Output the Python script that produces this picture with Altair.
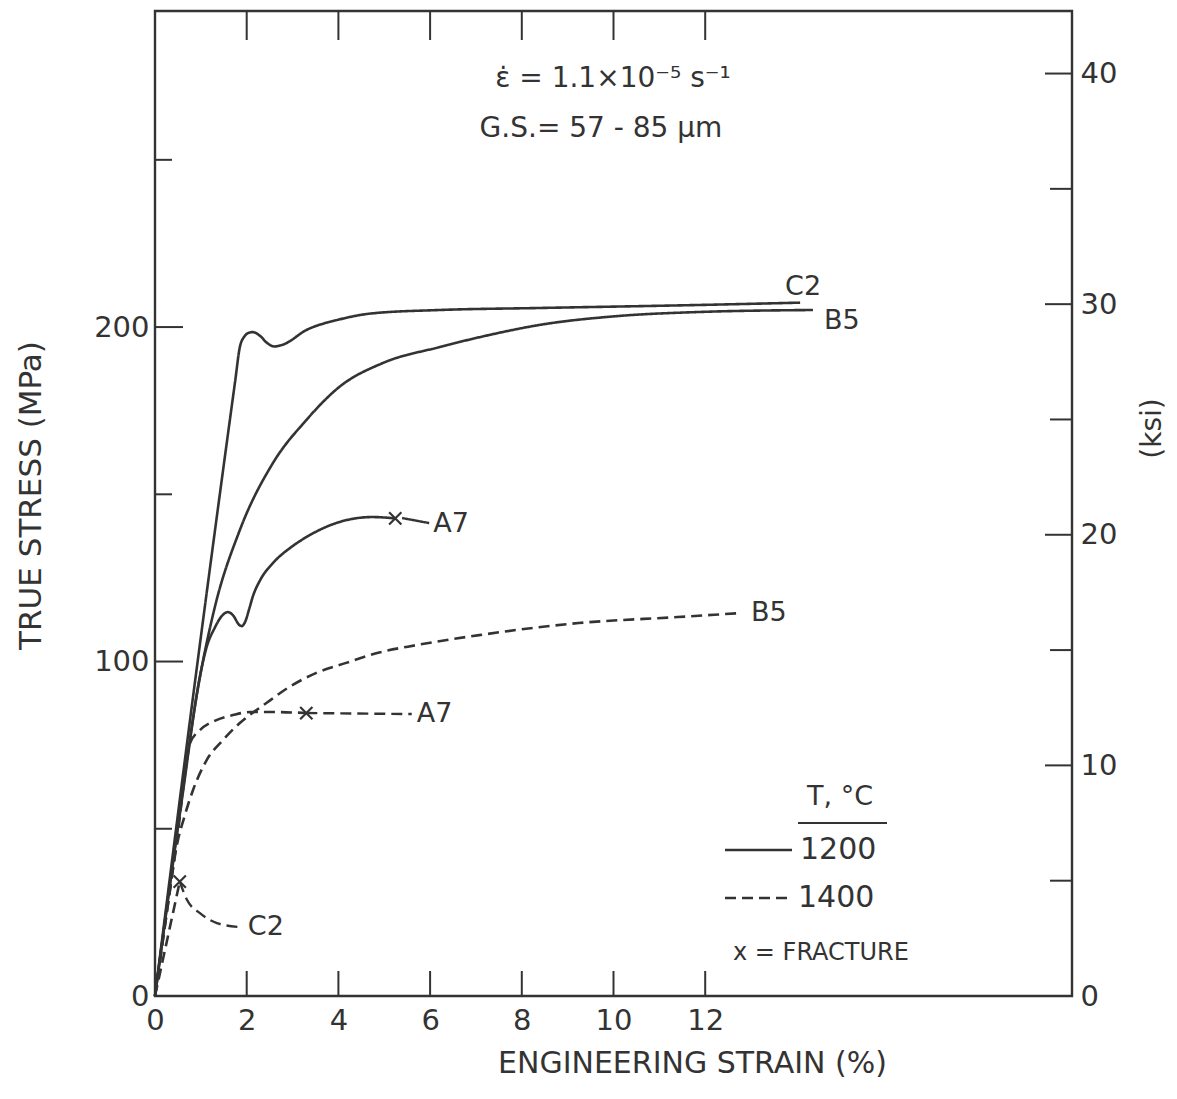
import altair as alt
import pandas as pd

# ---------------- data ----------------
# 1200 C curves (solid)
c2_1200_strain = [0, 0.83, 1.75, 1.85, 1.95, 2.05, 2.13, 2.28, 2.45, 2.6, 2.8, 3.3, 4.0, 4.74, 6.2, 8.37, 11.85, 14.07]
c2_1200_stress = [0, 89.5, 184, 194, 197.2, 198.3, 198.5, 197.5, 195.2, 194.2, 194.8, 199.1, 202.2, 204.1, 205.1, 205.7, 206.6, 207.3]

b5_1200_strain = [0, 0.5, 0.93, 1.3, 1.85, 2.57, 3.3, 4.02, 4.96, 6.2, 7.28, 8.37, 10.1, 11.85, 14.35]
b5_1200_stress = [0, 51, 91.5, 116, 139.3, 159.3, 172.2, 182.1, 189.2, 194.0, 197.6, 200.6, 203.3, 204.5, 205.1]

a7_1200_strain = [0, 0.6, 1.0, 1.13, 1.3, 1.45, 1.59, 1.72, 1.82, 1.89, 1.97, 2.05, 2.13, 2.3, 2.57, 3.0, 3.3, 4.02, 4.74, 5.24]
a7_1200_stress = [0, 60, 97, 104.5, 110, 113.5, 114.8, 113.5, 111.2, 110.6, 112.0, 115.5, 119.3, 124.5, 129.4, 134.5, 137.2, 141.7, 143.2, 142.8]

# 1400 C curves (dashed)
b5_1400_strain = [0, 0.3, 0.47, 0.65, 0.83, 1.13, 1.48, 1.85, 2.43, 2.93, 3.52, 4.17, 4.89, 5.7, 7.07, 9.24, 11.4, 12.78]
b5_1400_stress = [0, 29, 44.6, 54, 61.6, 70.6, 76.5, 81.6, 87.6, 92.4, 96.6, 99.6, 102.7, 104.9, 107.9, 111.5, 113.3, 114.5]

a7_1400_strain = [0, 0.5, 0.76, 0.98, 1.34, 1.7, 2.07, 2.57, 3.3]
a7_1400_stress = [0, 49, 75.5, 79.5, 82.5, 84.0, 84.9, 84.9, 84.6]

c2_1400_strain = [0, 0.54]
c2_1400_stress = [0, 34.2]

# leader lines from fracture / curve end to the specimen label
lead_a7_1200_strain = [5.39, 5.98]
lead_a7_1200_stress = [142.9, 141.4]
lead_a7_1400_strain = [3.3, 5.6]
lead_a7_1400_stress = [84.6, 84.3]
lead_c2_1400_strain = [0.54, 0.7, 0.98, 1.35, 1.85]
lead_c2_1400_stress = [34.2, 28.7, 24.8, 21.8, 20.6]

# fracture points
fracture_strain = [5.24, 3.3, 0.54]
fracture_stress = [142.8, 84.6, 34.2]

x_tick_labels = [0, 2, 4, 6, 8, 10, 12]
x_ticks = [2, 4, 6, 8, 10, 12]
y_labels = [0, 100, 200]
y_major = [100, 200]
y_minor = [50, 150, 250]
ksi_labels = [0, 10, 20, 30, 40]
ksi_major = [10, 20, 30, 40]
ksi_minor = [5, 15, 25, 35]

MPA_PER_KSI = 6.895
Y_MAX = 294.5
X_MAX = 20

# ---------------- tables ----------------
def series(name, temp, xs, ys):
    return pd.DataFrame({"specimen": name, "temp": temp, "key": f"{name}-{temp}",
                         "strain": xs, "stress": ys, "order": range(len(xs))})

curves = pd.concat([
    series("C2", "1200", c2_1200_strain, c2_1200_stress),
    series("B5", "1200", b5_1200_strain, b5_1200_stress),
    series("A7", "1200", a7_1200_strain, a7_1200_stress),
    series("B5", "1400", b5_1400_strain, b5_1400_stress),
    series("A7", "1400", a7_1400_strain, a7_1400_stress),
    series("C2", "1400", c2_1400_strain, c2_1400_stress),
], ignore_index=True)

leaders = pd.concat([
    series("A7", "1200", lead_a7_1200_strain, lead_a7_1200_stress),
    series("A7", "1400", lead_a7_1400_strain, lead_a7_1400_stress),
    series("C2", "1400", lead_c2_1400_strain, lead_c2_1400_stress),
], ignore_index=True)

fractures = pd.DataFrame({"strain": fracture_strain, "stress": fracture_stress})

# label anchors = end of leader (if any) or end of curve
ends = []
for key, g in curves.groupby("key"):
    lg = leaders[leaders["key"] == key]
    src = lg if len(lg) else g
    last = src.sort_values("order").iloc[-1]
    ends.append({"key": key, "specimen": last["specimen"], "strain": last["strain"], "stress": last["stress"]})
ends = pd.DataFrame(ends)

INK = "#333333"
FONT = "DejaVu Sans"
W, H = 917, 985

xscale = alt.Scale(domain=[0, X_MAX], nice=False, zero=False)
yscale = alt.Scale(domain=[0, Y_MAX], nice=False, zero=False)
kscale = alt.Scale(domain=[0, Y_MAX / MPA_PER_KSI], nice=False, zero=False)
dash = alt.Scale(domain=["1200", "1400"], range=[[1, 0], [11, 6]])

x_axis = alt.Axis(values=x_tick_labels, ticks=False, domain=False, grid=False,
                  labelFont=FONT, labelFontSize=29, labelColor=INK, labelPadding=10,
                  labelFlush=False, labelOverlap=False,
                  title="ENGINEERING STRAIN (%)", titleFont=FONT, titleFontSize=30,
                  titleFontWeight="normal", titleColor=INK, titleX=537, titleY=67,
                  titleBaseline="middle", titleAlign="center")
y_axis = alt.Axis(values=y_labels, ticks=False, domain=False, grid=False,
                  labelFont=FONT, labelFontSize=29, labelColor=INK, labelPadding=6,
                  labelFlush=False, labelOverlap=False,
                  title="TRUE STRESS (MPa)", titleFont=FONT, titleFontSize=31,
                  titleFontWeight="normal", titleColor=INK, titleAngle=270,
                  titleX=-124, titleY=484, titleBaseline="middle", titleAlign="center")
k_axis = alt.Axis(values=ksi_labels, orient="right", ticks=False, domain=False, grid=False,
                  labelFont=FONT, labelFontSize=29, labelColor=INK, labelPadding=8,
                  labelFlush=False, labelOverlap=False,
                  title="(ksi)", titleFont=FONT, titleFontSize=28,
                  titleFontWeight="normal", titleColor=INK, titleAngle=270,
                  titleX=80, titleY=417, titleBaseline="middle", titleAlign="center")

def X():
    return alt.X("strain:Q", scale=xscale, axis=x_axis)

def Y():
    return alt.Y("stress:Q", scale=yscale, axis=y_axis)

curve_layer = alt.Chart(curves).mark_line(color=INK, strokeWidth=2.6, interpolate="monotone").encode(
    x=X(), y=Y(), detail="key:N", order="order:Q",
    strokeDash=alt.StrokeDash("temp:N", scale=dash, legend=None))

leader_layer = alt.Chart(leaders).mark_line(color=INK, strokeWidth=2.4, interpolate="monotone").encode(
    x=X(), y=Y(), detail="key:N", order="order:Q",
    strokeDash=alt.StrokeDash("temp:N", scale=dash, legend=None))

frac_layer = alt.Chart(fractures).mark_point(
    shape="M-1,-1L1,1M-1,1L1,-1", size=150, filled=False, color=INK, strokeWidth=2.2, opacity=1
).encode(x=X(), y=Y())

label_offsets = {"C2-1200": (3, -16, "center"), "B5-1200": (11, 11, "left"),
                 "A7-1200": (4, 1, "left"), "B5-1400": (10, 0, "left"),
                 "A7-1400": (5, 0, "left"), "C2-1400": (8, 0, "left")}
label_layers = []
for key, (dx, dy, al) in label_offsets.items():
    label_layers.append(
        alt.Chart(ends[ends["key"] == key]).mark_text(
            dx=dx, dy=dy, align=al, baseline="middle", font=FONT, fontSize=27, color=INK
        ).encode(x=X(), y=Y(), text="specimen:N"))

# inward tick marks
def vticks(vals, y0, y1):
    return alt.Chart(pd.DataFrame({"strain": vals})).mark_rule(color=INK, strokeWidth=2).encode(
        x=X(), y=alt.value(y0), y2=alt.value(y1))

def hticks(vals, length):
    return alt.Chart(pd.DataFrame({"stress": vals})).mark_rule(color=INK, strokeWidth=2).encode(
        y=Y(), x=alt.value(0), x2=alt.value(length))

tick_layers = [vticks(x_ticks, 0, 29), vticks(x_ticks, H - 25, H),
               hticks(y_major, 28), hticks(y_minor, 17)]

def ptext(txt, x, y, size, align="center"):
    return alt.Chart(pd.DataFrame({"t": [txt]})).mark_text(
        align=align, baseline="middle", font=FONT, fontSize=size, color=INK
    ).encode(x=alt.value(x), y=alt.value(y), text="t:N")

def prule(x0, x1, y, dashed=False, width=2.4):
    kw = dict(color=INK, strokeWidth=width)
    if dashed:
        kw["strokeDash"] = [11, 6]
    return alt.Chart(pd.DataFrame({"a": [0]})).mark_rule(**kw).encode(
        x=alt.value(x0), x2=alt.value(x1), y=alt.value(y))

annot = [
    ptext("ε̇ = 1.1×10⁻⁵ s⁻¹", 458, 68, 28),
    ptext("G.S.= 57 - 85 μm", 446, 118, 28),
    # legend
    ptext("T, °C", 685, 786, 27),
    prule(643, 732, 812, width=2),
    prule(570, 637, 839),
    ptext("1200", 645, 839, 30, "left"),
    prule(570, 637, 887, dashed=True),
    ptext("1400", 643, 887, 30, "left"),
    ptext("x = FRACTURE", 578, 942, 24, "left"),
]

mpa = alt.layer(curve_layer, leader_layer, frac_layer, *label_layers, *tick_layers, *annot)

ksi_major_layer = alt.Chart(pd.DataFrame({"ksi": ksi_major})).mark_rule(color=INK, strokeWidth=2).encode(
    y=alt.Y("ksi:Q", scale=kscale, axis=k_axis), x=alt.value(W - 27), x2=alt.value(W))
ksi_minor_layer = alt.Chart(pd.DataFrame({"ksi": ksi_minor})).mark_rule(color=INK, strokeWidth=2).encode(
    y=alt.Y("ksi:Q", scale=kscale, axis=k_axis), x=alt.value(W - 22), x2=alt.value(W))
ksi = alt.layer(ksi_major_layer, ksi_minor_layer)

chart = alt.layer(mpa, ksi).resolve_scale(y="independent").properties(
    width=W, height=H,
    autosize=alt.AutoSizeParams(type="none"),
    padding={"left": 155, "top": 11, "right": 105, "bottom": 103},
    background="white",
).configure_view(stroke=INK, strokeWidth=2.4)

chart.save("out.html", embed_options={"renderer": "svg", "actions": False})
